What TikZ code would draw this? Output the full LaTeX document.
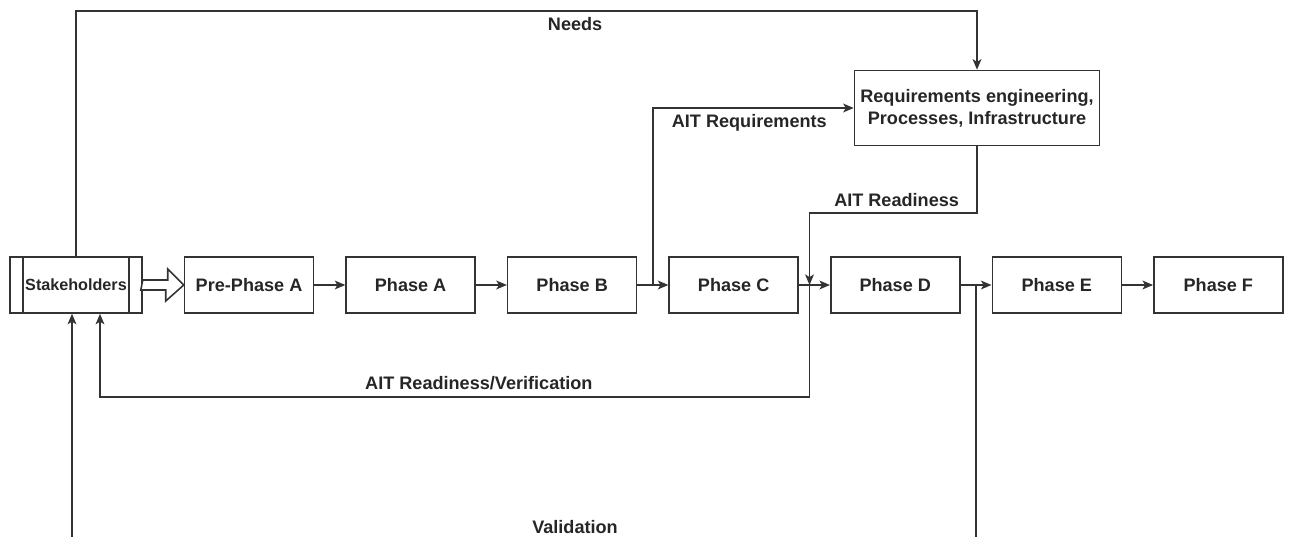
\documentclass[tikz,border=0pt]{standalone}
\usepackage{fontspec}
\setmainfont{Liberation Sans}
\usetikzlibrary{arrows.meta, positioning}

\begin{document}
\begin{tikzpicture}[x=0.02cm,y=-0.02cm,->,>={Stealth[length=6pt,width=5pt,inset=1.5pt]},
  line width=0.9pt,draw=black!80,node distance=0.62cm,
  every node/.style={font=\fontsize{10.3}{12.5}\selectfont\bfseries,text=black!85},
  phase node/.style={rectangle,draw,-,minimum width=2.58cm,minimum height=1.12cm,inner sep=0pt}]

  \useasboundingbox (0,0) rectangle (1291,537);

  \node[phase node,minimum width=2.64cm,font=\fontsize{9.2}{11}\selectfont\bfseries] (stake) at (76,285) {Stakeholders};
  \node[phase node] (pre) [right=0.82cm of stake] {Pre-Phase A};
  \node[phase node] (phA) [right=of pre] {Phase A};
  \node[phase node] (phB) [right=of phA] {Phase B};
  \node[phase node] (phC) [right=of phB] {Phase C};
  \node[phase node] (phD) [right=of phC] {Phase D};
  \node[phase node] (phE) [right=of phD] {Phase E};
  \node[phase node] (phF) [right=of phE] {Phase F};
  \node[phase node,minimum width=4.9cm,minimum height=1.5cm,align=center] (req) at (977,108)
    {Requirements engineering,\\Processes, Infrastructure};

  \draw[-] ([xshift=0.28cm]stake.north west) -- ([xshift=0.28cm]stake.south west);
  \draw[-] ([xshift=-0.28cm]stake.north east) -- ([xshift=-0.28cm]stake.south east);

  % hollow arrow into Pre-Phase A
  \draw[-,fill=white] (stake.east) ++(0,-5) -- ++(25,0) -- ++(0,-11) -- (pre.west)
    -- ++(-18,16) -- ++(0,-11) -- ++(-25,0) -- cycle;

  \draw (pre) -- (phA);
  \draw (phA) -- (phB);
  \draw (phB) -- coordinate[pos=0.5] (jB) (phC);
  \draw (phC) -- coordinate[pos=0.34] (jC) (phD);
  \draw (phD) -- coordinate[pos=0.5] (jD) (phE);
  \draw (phE) -- (phF);

  \draw (stake.north) -- ++(0,-245) -| node[pos=0.277,below] {Needs} (req.north);
  \draw (jB) |- node[pos=0.74,below] {AIT Requirements} (req.west);
  \draw (req.south) -- ++(0,67) -| node[pos=0.24,above] {AIT Readiness} (jC);
  \draw (jC) -- ++(0,112) -| node[pos=0.233,above] {AIT Readiness/Verification} ([xshift=0.48cm]stake.south);

  \coordinate (vl) at (72,537);
  \draw[-] (jD) -- (jD |- vl);
  \draw (vl) -- (vl |- stake.south);
  \node (val) at (575,527) {Validation};
\end{tikzpicture}
\end{document}
